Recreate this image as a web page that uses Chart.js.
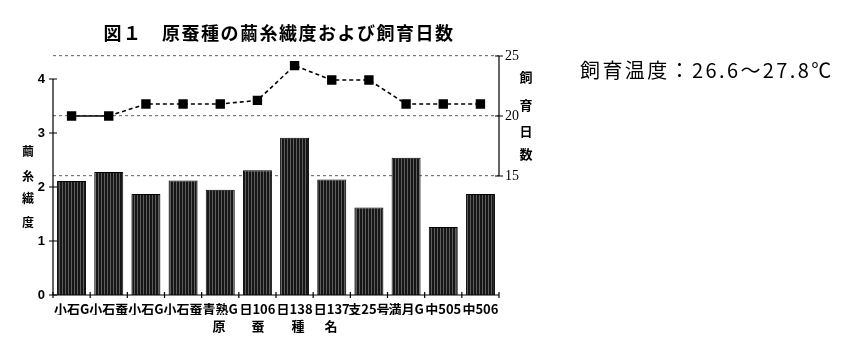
<!DOCTYPE html>
<html><head><meta charset="utf-8">
<script src="https://cdn.jsdelivr.net/npm/chart.js@4"></script>
<style>html,body{margin:0;padding:0;background:#fff;}#wrap{width:850px;height:350px;position:relative;}</style>
</head><body><div id="wrap"><canvas id="c" width="850" height="350"></canvas></div>
<script>
const categories = ['小石G','小石蚕','小石G','小石蚕','青熟G','日106','日138','日137','支25号','満月G','中505','中506'];
const fineness = [2.11, 2.28, 1.87, 2.12, 1.95, 2.31, 2.91, 2.14, 1.62, 2.54, 1.26, 1.87];
const rearingDays = [20.0, 20.0, 21.0, 21.0, 21.0, 21.3, 24.2, 23.0, 23.0, 21.0, 21.0, 21.0];
const leftTicks = [0, 1, 2, 3, 4];
const rightTicks = [15, 20, 25];
const titleText = '図１　原蚕種の繭糸繊度および飼育日数';
const noteText = '飼育温度：26.6～27.8℃';
const leftTitle = ['繭','糸','繊','度'];
const rightTitle = ['飼','育','日','数'];
const xTitle = ['原','蚕','種','名'];

const ctx0 = document.getElementById('c').getContext('2d');
const barFill = ctx0.createPattern((()=>{const p=document.createElement('canvas');p.width=3;p.height=4;const g=p.getContext('2d');g.fillStyle='#161616';g.fillRect(0,0,3,4);g.fillStyle='#5e5e5e';g.fillRect(2,0,1,4);return p;})(),'repeat');

const JP = '"Noto Sans CJK JP", "Noto Sans", sans-serif';

const decor = {
  id: 'decor',
  afterDraw(chart){
    const c = chart.ctx, a = chart.chartArea;
    const y = chart.scales.y, y1 = chart.scales.y1, x = chart.scales.x;
    c.save();
    c.strokeStyle = '#000'; c.lineWidth = 1.2;
    c.beginPath();
    c.moveTo(a.left, y.getPixelForValue(0)); c.lineTo(a.left, y.getPixelForValue(leftTicks[leftTicks.length-1]));
    leftTicks.forEach(v=>{const py=y.getPixelForValue(v); c.moveTo(a.left-4,py); c.lineTo(a.left+4,py);});
    c.stroke();
    c.beginPath();
    c.moveTo(a.right, y1.getPixelForValue(rightTicks[0])); c.lineTo(a.right, y1.getPixelForValue(rightTicks[rightTicks.length-1]));
    rightTicks.forEach(v=>{const py=y1.getPixelForValue(v); c.moveTo(a.right-4,py); c.lineTo(a.right+4,py);});
    c.stroke();
    c.beginPath();
    c.moveTo(a.left, a.bottom); c.lineTo(a.right, a.bottom);
    const step = x.getPixelForValue(1)-x.getPixelForValue(0);
    for(let i=0;i<=categories.length;i++){
      const px = x.getPixelForValue(0) - step/2 + i*step;
      c.moveTo(px, a.bottom-3); c.lineTo(px, a.bottom+3);
    }
    c.stroke();
    c.fillStyle = '#000';
    c.textAlign = 'center'; c.textBaseline = 'middle';
    c.font = 'bold 18px ' + JP;
    c.letterSpacing = '1.5px';
    c.fillText(titleText, 279, 33);
    c.font = '20px ' + JP;
    c.letterSpacing = '2.4px';
    c.textAlign = 'left';
    c.fillText(noteText, 580, 70);
    c.letterSpacing = '0px';
    c.textAlign = 'center';
    c.font = 'bold 12px ' + JP;
    const ly = [151, 176, 198, 222];
    leftTitle.forEach((t,i)=>c.fillText(t, 28, ly[i]));
    c.font = 'bold 13px ' + JP;
    const ry = [77, 105, 131, 154];
    rightTitle.forEach((t,i)=>c.fillText(t, 526, ry[i]));
    const xx = [219, 258, 298, 331];
    xTitle.forEach((t,i)=>c.fillText(t, xx[i], 326));
    c.restore();
  }
};

new Chart(ctx0, {
  data: {
    labels: categories,
    datasets: [
      { type:'line', yAxisID:'y1', data: rearingDays, order:0,
        borderColor:'#000', borderWidth:1.6, borderDash:[4,3],
        segment:{ borderDash: s => s.p0DataIndex === 0 ? [] : [4,3] },
        pointStyle:'rect', pointRadius:5.5, pointBackgroundColor:'#000', pointBorderColor:'#000', tension:0 },
      { type:'bar', yAxisID:'y', data: fineness, order:1,
        backgroundColor: barFill, borderColor:'#000', borderWidth:1,
        barPercentage:0.78, categoryPercentage:1.0 }
    ]
  },
  options: {
    responsive:false, animation:false,
    layout:{ padding:{ left:33, right:301, top:56, bottom:35 } },
    plugins:{ legend:{display:false}, tooltip:{enabled:false}, title:{display:false} },
    scales:{
      x:{ type:'category', grid:{display:false, drawTicks:false}, border:{display:false},
          ticks:{ padding:6, color:'#000', font:{family:JP, size:13, weight:'bold'}, maxRotation:0, autoSkip:false },
          afterFit(s){ s.height = 20; } },
      y:{ position:'left', min:0, max:4.426,
          afterBuildTicks(s){ s.ticks = leftTicks.map(v=>({value:v})); },
          grid:{display:false, drawTicks:false}, border:{display:false},
          ticks:{ padding:8, color:'#000', font:{family:'"Liberation Sans", sans-serif', size:13, weight:'bold'} },
          afterFit(s){ s.width = 20; } },
      y1:{ position:'right', min:5.08, max:25,
          afterBuildTicks(s){ s.ticks = rightTicks.map(v=>({value:v})); },
          grid:{ display:true, drawTicks:false, color:'#777', lineWidth:1.2 },
          border:{display:false, dash:[3,3]},
          ticks:{ padding:6, color:'#000', font:{family:'"Liberation Serif", serif', size:14} },
          afterFit(s){ s.width = 50; } }
    }
  },
  plugins:[decor]
});
</script></body></html>
